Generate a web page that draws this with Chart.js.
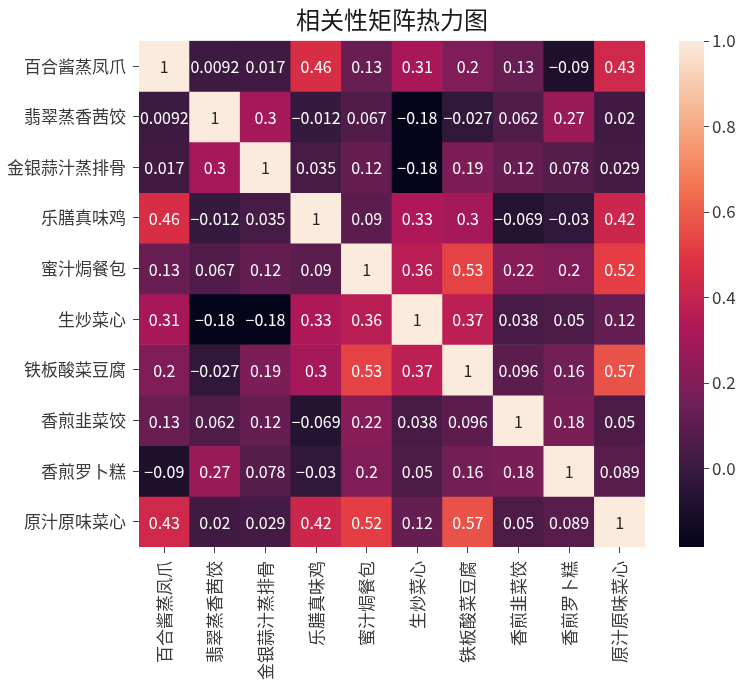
<!DOCTYPE html>
<html>
<head>
<meta charset="utf-8">
<script src="https://cdn.jsdelivr.net/npm/chart.js@4.4.1/dist/chart.umd.min.js"></script>
<style>
  html, body { margin: 0; padding: 0; background: #fff; }
  #wrap { width: 749px; height: 686px; position: relative; }
</style>
</head>
<body>
<div id="wrap"><canvas id="heatmap"></canvas></div>
<script>
const dishes = ['百合酱蒸凤爪', '翡翠蒸香茜饺', '金银蒜汁蒸排骨', '乐膳真味鸡', '蜜汁焗餐包',
  '生炒菜心', '铁板酸菜豆腐', '香煎韭菜饺', '香煎罗卜糕', '原汁原味菜心'];

// correlation matrix, one row per dish
const corr = [
  [1, 0.0092, 0.017, 0.46, 0.13, 0.31, 0.2, 0.13, -0.09, 0.43],
  [0.0092, 1, 0.3, -0.012, 0.067, -0.18, -0.027, 0.062, 0.27, 0.02],
  [0.017, 0.3, 1, 0.035, 0.12, -0.18, 0.19, 0.12, 0.078, 0.029],
  [0.46, -0.012, 0.035, 1, 0.09, 0.33, 0.3, -0.069, -0.03, 0.42],
  [0.13, 0.067, 0.12, 0.09, 1, 0.36, 0.53, 0.22, 0.2, 0.52],
  [0.31, -0.18, -0.18, 0.33, 0.36, 1, 0.37, 0.038, 0.05, 0.12],
  [0.2, -0.027, 0.19, 0.3, 0.53, 0.37, 1, 0.096, 0.16, 0.57],
  [0.13, 0.062, 0.12, -0.069, 0.22, 0.038, 0.096, 1, 0.18, 0.05],
  [-0.09, 0.27, 0.078, -0.03, 0.2, 0.05, 0.16, 0.18, 1, 0.089],
  [0.43, 0.02, 0.029, 0.42, 0.52, 0.12, 0.57, 0.05, 0.089, 1]
];

const cbTicks = [0, 0.2, 0.4, 0.6, 0.8, 1.0];
const VMIN = -0.184;
const VMAX = 1;

const FONT = '"Noto Sans CJK SC", "DejaVu Sans", sans-serif';
const TICK_COLOR = '#444';

// seaborn "rocket" colormap stops
const rocket = [
  [0, '#03051a'],
  [1 / 7, '#35193e'],
  [2 / 7, '#701f57'],
  [3 / 7, '#ad1759'],
  [4 / 7, '#e13342'],
  [5 / 7, '#f37651'],
  [6 / 7, '#f6b48f'],
  [1, '#faebdd']
];

const hexToRgb = (h) => [1, 3, 5].map((i) => parseInt(h.substr(i, 2), 16));

function colorFor(v) {
  const t = Math.min(1, Math.max(0, (v - VMIN) / (VMAX - VMIN)));
  for (let i = 1; i < rocket.length; i++) {
    if (t <= rocket[i][0]) {
      const [t0, c0] = rocket[i - 1];
      const [t1, c1] = rocket[i];
      const f = (t - t0) / (t1 - t0);
      const a = hexToRgb(c0);
      const b = hexToRgb(c1);
      const rgb = a.map((x, k) => Math.round(x + (b[k] - x) * f));
      return `rgb(${rgb.join(',')})`;
    }
  }
  return rocket[rocket.length - 1][1];
}

function textColor(rgbStr) {
  const rgb = rgbStr.match(/\d+/g).map((x) => {
    const c = +x / 255;
    return c <= 0.03928 ? c / 12.92 : Math.pow((c + 0.055) / 1.055, 2.4);
  });
  const lum = 0.2126 * rgb[0] + 0.7152 * rgb[1] + 0.0722 * rgb[2];
  return lum > 0.408 ? '#262626' : '#ffffff';
}

const fmt = (v) => {
  let s = v.toPrecision(2);
  if (s.indexOf('.') >= 0) s = s.replace(/0+$/, '').replace(/\.$/, '');
  return s.replace('-', '\u2212');
};

const datasets = corr.map((row, r) => ({
  label: dishes[r],
  data: row.map(() => [r, r + 1]),
  values: row,
  backgroundColor: row.map(colorFor),
  borderWidth: 0,
  grouped: false,
  barPercentage: 1,
  categoryPercentage: 1
}));

// cell annotations
const annotate = {
  id: 'annotate',
  afterDatasetsDraw(chart) {
    const ctx = chart.ctx;
    ctx.save();
    ctx.font = `16px ${FONT}`;
    ctx.textAlign = 'center';
    ctx.textBaseline = 'middle';
    chart.data.datasets.forEach((ds, r) => {
      chart.getDatasetMeta(r).data.forEach((bar, c) => {
        ctx.fillStyle = textColor(ds.backgroundColor[c]);
        ctx.fillText(fmt(ds.values[c]), bar.x, (bar.y + bar.base) / 2 + 1);
      });
    });
    ctx.restore();
  }
};

// colour bar drawn along the cb scale
const colorbar = {
  id: 'colorbar',
  afterDraw(chart) {
    const cb = chart.scales.cb;
    const ctx = chart.ctx;
    const top = cb.getPixelForValue(VMAX);
    const bottom = cb.getPixelForValue(VMIN);
    const x0 = cb.left + 34;
    const w = 25;
    const grad = ctx.createLinearGradient(0, bottom, 0, top);
    rocket.forEach(([t, c]) => grad.addColorStop(t, c));
    ctx.save();
    ctx.fillStyle = grad;
    ctx.fillRect(x0, top, w, bottom - top);
    ctx.strokeStyle = TICK_COLOR;
    ctx.lineWidth = 1;
    cb.ticks.forEach((t) => {
      const y = Math.round(cb.getPixelForValue(t.value)) + 0.5;
      ctx.beginPath();
      ctx.moveTo(x0 + w, y);
      ctx.lineTo(x0 + w + 5, y);
      ctx.stroke();
    });
    ctx.restore();
  }
};

Chart.defaults.font.family = FONT;
Chart.defaults.color = '#3a3a3a';

new Chart(document.getElementById('heatmap'), {
  type: 'bar',
  data: { labels: dishes, datasets },
  plugins: [annotate, colorbar],
  options: {
    responsive: true,
    maintainAspectRatio: false,
    animation: false,
    layout: { padding: 0 },
    plugins: {
      legend: { display: false },
      tooltip: { enabled: false },
      title: {
        display: true,
        text: '相关性矩阵热力图',
        fullSize: false,
        color: '#1a1a1a',
        font: { size: 24, weight: 'normal' },
        padding: { top: 5, bottom: 7 }
      }
    },
    scales: {
      x: {
        type: 'category',
        offset: true,
        border: { display: false },
        grid: {
          display: true,
          drawOnChartArea: false,
          drawTicks: true,
          tickLength: 6,
          offset: false,
          color: TICK_COLOR
        },
        ticks: {
          autoSkip: false,
          minRotation: 90,
          maxRotation: 90,
          padding: 8,
          font: { size: 17 }
        },
        afterFit(scale) { scale.height = 139; }
      },
      y: {
        type: 'linear',
        reverse: true,
        min: 0,
        max: dishes.length,
        border: { display: false },
        grid: {
          display: true,
          drawOnChartArea: false,
          drawTicks: true,
          tickLength: 6,
          color: TICK_COLOR
        },
        afterBuildTicks(scale) {
          scale.ticks = dishes.map((d, i) => ({ value: i + 0.5 }));
        },
        ticks: {
          autoSkip: false,
          padding: 7,
          font: { size: 17 },
          callback: (v) => dishes[Math.floor(v)]
        },
        afterFit(scale) { scale.width = 139; }
      },
      cb: {
        type: 'linear',
        position: 'right',
        min: VMIN,
        max: VMAX,
        border: { display: false },
        grid: { display: false, drawTicks: false },
        afterBuildTicks(scale) {
          scale.ticks = cbTicks.map((v) => ({ value: v }));
        },
        ticks: {
          padding: 67,
          font: { size: 17 },
          callback: (v) => v.toFixed(1)
        },
        afterFit(scale) {
          scale.width = 104;
          scale.paddingTop = 0;
          scale.paddingBottom = 0;
        }
      }
    }
  }
});
</script>
</body>
</html>
